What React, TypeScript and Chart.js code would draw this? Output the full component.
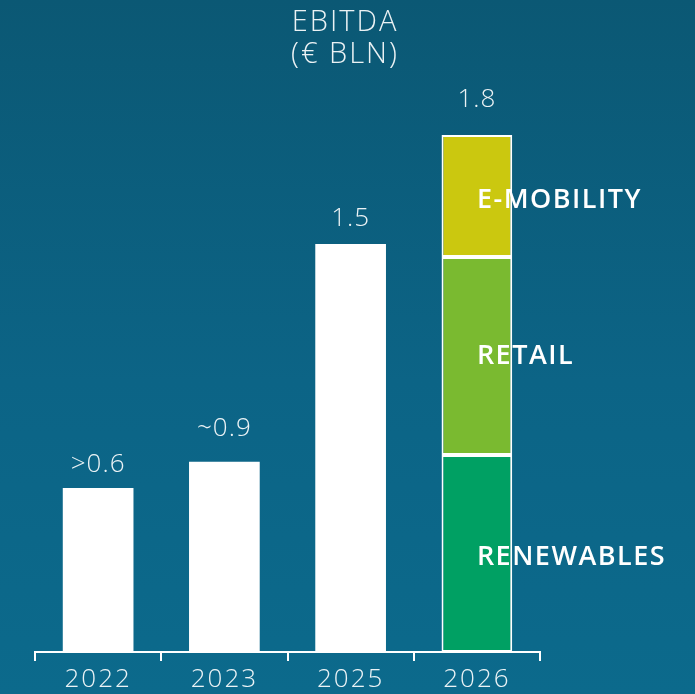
import React, { useEffect, useRef } from "react";
import { Chart, registerables } from "chart.js";

Chart.register(...registerables);

// ---- data ----
const categories = ["2022", "2023", "2025", "2026"];
const totalValues = [0.571, 0.662, 1.421, null];
const renewablesValues = [null, null, null, 0.686];
const retailValues = [null, null, null, 0.689];
const eMobilityValues = [null, null, null, 0.425];
const valueLabels = [">0.6", "~0.9", "1.5", "1.8"];
const segmentLabels = ["RENEWABLES", "RETAIL", "E-MOBILITY"];
const titleLines = ["EBITDA", "(€ BLN)"];

const LIGHT_FONT = "'Open Sans', Lato, sans-serif";
const labelGaps = [16, 26, 18, 28];

const spacingPlugin = {
  id: "spacing",
  beforeDraw(chart: any) {
    (chart.ctx as any).letterSpacing = "2px";
  },
};

const overlayPlugin = {
  id: "overlay",
  afterDatasetsDraw(chart: any) {
    const ctx = chart.ctx;
    ctx.save();
    // title
    (ctx as any).letterSpacing = "2px";
    ctx.fillStyle = "rgba(255,255,255,0.92)";
    ctx.textAlign = "center";
    ctx.textBaseline = "alphabetic";
    ctx.font = `300 29px ${LIGHT_FONT}`;
    ctx.fillText(titleLines[0], 345, 31);
    ctx.fillText(titleLines[1], 345, 63);

    // value labels above bars
    (ctx as any).letterSpacing = "1px";
    ctx.font = `300 26px ${LIGHT_FONT}`;
    const n = categories.length;
    for (let i = 0; i < n; i++) {
      let topY = Infinity;
      let cx = 0;
      chart.data.datasets.forEach((ds: any, di: number) => {
        const v = ds.data[i];
        if (v == null) return;
        const el = chart.getDatasetMeta(di).data[i];
        if (el && el.y < topY) {
          topY = el.y;
          cx = el.x;
        }
      });
      if (topY !== Infinity) {
        ctx.fillText(valueLabels[i], cx, topY - labelGaps[i]);
      }
    }

    // segment labels
    (ctx as any).letterSpacing = "1.5px";
    ctx.font = `600 27px ${LIGHT_FONT}`;
    ctx.fillStyle = "#ffffff";
    ctx.textAlign = "left";
    ctx.textBaseline = "middle";
    const offsets = [4, 0, 4];
    for (let s = 0; s < segmentLabels.length; s++) {
      const meta = chart.getDatasetMeta(s + 1);
      const el = meta.data[3];
      if (!el) continue;
      const cy = (el.y + el.base) / 2;
      ctx.fillText(segmentLabels[s], el.x, cy + offsets[s]);
    }
    ctx.restore();
  },
};

export default function App() {
  const canvasRef = useRef<HTMLCanvasElement | null>(null);

  useEffect(() => {
    if (!canvasRef.current) return;
    const chart = new Chart(canvasRef.current, {
      type: "bar",
      data: {
        labels: categories,
        datasets: [
          {
            label: "EBITDA",
            data: totalValues as any,
            backgroundColor: "#ffffff",
            borderWidth: 0,
          },
          {
            label: "Renewables",
            data: renewablesValues as any,
            backgroundColor: "#00a063",
            borderColor: "#ffffff",
            borderWidth: 2,
            borderSkipped: false,
          },
          {
            label: "Retail",
            data: retailValues as any,
            backgroundColor: "#7aba30",
            borderColor: "#ffffff",
            borderWidth: 2,
            borderSkipped: false,
          },
          {
            label: "E-Mobility",
            data: eMobilityValues as any,
            backgroundColor: "#cbc80f",
            borderColor: "#ffffff",
            borderWidth: 2,
            borderSkipped: false,
          },
        ],
      },
      options: {
        animation: false,
        responsive: false,
        maintainAspectRatio: false,
        datasets: {
          bar: { barPercentage: 0.56, categoryPercentage: 1 },
        } as any,
        layout: { padding: { top: 77.6, left: 35, right: 155, bottom: 0 } },
        plugins: {
          legend: { display: false },
          title: { display: false },
          tooltip: { enabled: false },
        },
        scales: {
          x: {
            stacked: true,
            afterFit: (axis: any) => {
              axis.height = 42;
            },
            grid: {
              display: true,
              drawOnChartArea: false,
              drawTicks: true,
              tickLength: 9,
              color: "#ffffff",
              lineWidth: 2,
              offset: true,
            },
            border: { display: true, color: "#ffffff", width: 2 },
            ticks: {
              color: "rgba(255,255,255,0.92)",
              font: { family: LIGHT_FONT, size: 26, weight: "300" as any },
              padding: 3,
              maxRotation: 0,
            },
          },
          y: {
            stacked: true,
            display: false,
            min: 0,
            max: 2.0,
          },
        },
      },
      plugins: [spacingPlugin, overlayPlugin],
    });
    return () => chart.destroy();
  }, []);

  return (
    <div
      style={{
        position: "fixed",
        left: 0,
        top: 0,
        width: 695,
        height: 694,
        background: "linear-gradient(to bottom, #0b5874 0%, #0c6486 55%, #0c6a8c 100%)",
      }}
    >
      <canvas ref={canvasRef} width={695} height={694} style={{ display: "block" }} />
    </div>
  );
}
